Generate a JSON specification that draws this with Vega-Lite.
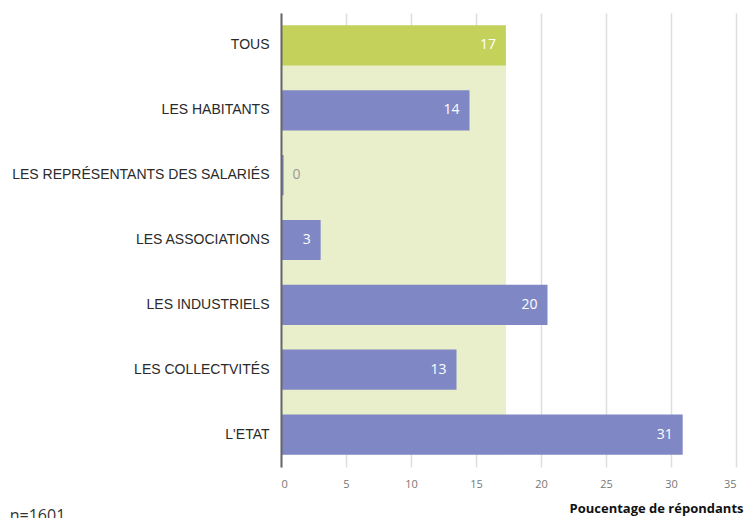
{
  "$schema": "https://vega.github.io/schema/vega-lite/v6.json",
  "autosize": {"type": "none"},
  "padding": {"left": 281, "top": 13, "right": 8, "bottom": 51},
  "width": 455,
  "height": 454,
  "background": "white",
  "title": {
    "text": "n=1601",
    "orient": "bottom",
    "anchor": "start",
    "frame": "bounds",
    "font": "Open Sans",
    "fontSize": 16,
    "fontWeight": "normal",
    "color": "#333",
    "offset": -7,
    "dx": -2
  },
  "config": {
    "view": {"stroke": null},
    "font": "Liberation Sans"
  },
  "data": {
    "values": [
      {"cat": "TOUS", "value": 17.3, "label": "17"},
      {"cat": "LES HABITANTS", "value": 14.5, "label": "14"},
      {"cat": "LES REPRÉSENTANTS DES SALARIÉS", "value": 0.2, "label": "0"},
      {"cat": "LES ASSOCIATIONS", "value": 3.05, "label": "3"},
      {"cat": "LES INDUSTRIELS", "value": 20.5, "label": "20"},
      {"cat": "LES COLLECTVITÉS", "value": 13.5, "label": "13"},
      {"cat": "L'ETAT", "value": 30.9, "label": "31"}
    ]
  },
  "layer": [
    {
      "transform": [{"filter": "datum.cat === 'TOUS'"}],
      "mark": {"type": "rect", "color": "#e9eecb", "y2Offset": 20},
      "encoding": {
        "x": {"field": "value", "type": "quantitative"},
        "x2": {"datum": 0},
        "y": {"datum": "TOUS", "type": "nominal"},
        "y2": {"datum": "L'ETAT"}
      }
    },
    {
      "mark": {"type": "bar"},
      "encoding": {
        "y": {
          "field": "cat",
          "type": "nominal",
          "sort": null,
          "scale": {
            "domain": ["TOUS", "LES HABITANTS", "LES REPRÉSENTANTS DES SALARIÉS", "LES ASSOCIATIONS", "LES INDUSTRIELS", "LES COLLECTVITÉS", "L'ETAT"],
            "paddingInner": 0.38,
            "paddingOuter": 0.19
          },
          "axis": {
            "title": null,
            "domain": true,
            "domainColor": "#666",
            "domainWidth": 2,
            "ticks": false,
            "labelPadding": 12,
            "labelLimit": 300,
            "labelFontSize": 14,
            "labelColor": "#2a2a2a",
            "labelFont": "Liberation Sans"
          }
        },
        "x": {
          "field": "value",
          "type": "quantitative",
          "scale": {"domain": [0, 35], "nice": false},
          "axis": {
            "values": [0, 5, 10, 15, 20, 25, 30, 35],
            "grid": true,
            "gridColor": "#dddddd",
            "gridWidth": 1.5,
            "domain": false,
            "ticks": false,
            "labelPadding": 11,
            "labelFontSize": 11,
            "labelColor": "#777",
            "labelFont": "Open Sans",
            "title": "Poucentage de répondants",
            "titleFont": "Open Sans",
            "titleFontSize": 13,
            "titleFontWeight": "bold",
            "titleColor": "#111",
            "titleAnchor": "end",
            "titleAlign": "right",
            "titleBaseline": "alphabetic",
            "titleX": 462,
            "titleY": 45
          }
        },
        "color": {
          "condition": {"test": "datum.cat === 'TOUS'", "value": "#c4d15b"},
          "value": "#7f88c4"
        }
      }
    },
    {
      "transform": [{"filter": "datum.value >= 1"}],
      "mark": {"type": "text", "align": "right", "dx": -10, "font": "Open Sans", "fontSize": 14, "color": "white"},
      "encoding": {
        "y": {"field": "cat", "type": "nominal", "sort": null},
        "x": {"field": "value", "type": "quantitative"},
        "text": {"field": "label"}
      }
    },
    {
      "transform": [{"filter": "datum.value < 1"}],
      "mark": {"type": "text", "align": "left", "dx": 9, "font": "Open Sans", "fontSize": 14, "color": "#999"},
      "encoding": {
        "y": {"field": "cat", "type": "nominal", "sort": null},
        "x": {"field": "value", "type": "quantitative"},
        "text": {"field": "label"}
      }
    }
  ]
}
